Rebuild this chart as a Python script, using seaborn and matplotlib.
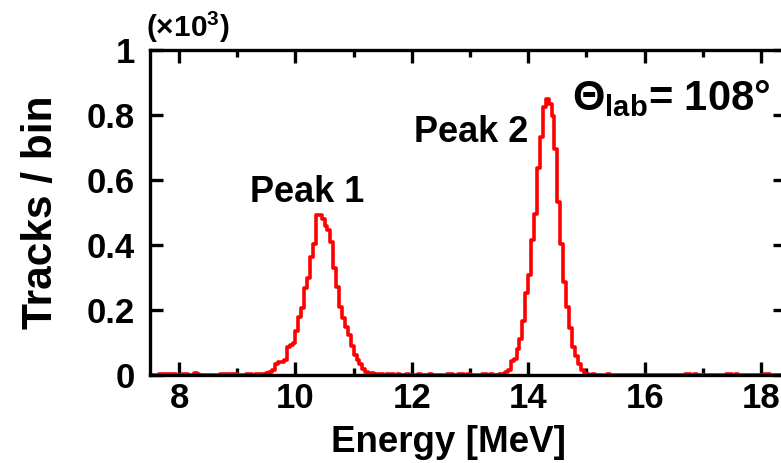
import numpy as np
import pandas as pd
import matplotlib
matplotlib.use('Agg')
import matplotlib.pyplot as plt
from matplotlib.ticker import MultipleLocator, FuncFormatter
import seaborn as sns

# Histogram data (tracks per 0.05 MeV bin)
bin_width = 0.05
peak1_start = 9.45
peak1_counts = [4, 5, 10, 15, 33, 39, 41, 46, 87, 92, 97, 135, 180, 205, 269, 300,
                364, 404, 491, 491, 481, 460, 445, 410, 328, 272, 210, 176, 148, 122,
                90, 62, 46, 33, 20, 10, 7, 5, 4]
peak2_start = 13.50
peak2_counts = [3, 4, 8, 15, 43, 50, 80, 110, 166, 253, 309, 415, 496, 637, 732, 825,
                848, 835, 797, 696, 532, 404, 286, 209, 145, 86, 58, 35, 14, 5, 4]
noise_energy = [7.65, 7.70, 7.75, 7.80, 7.85, 7.90, 8.05, 8.10, 8.25, 8.30, 8.70, 8.75,
                8.80, 8.90, 8.95, 9.15, 9.20, 9.30, 9.35, 9.40, 11.40, 11.45, 11.55,
                11.65, 11.75, 11.90, 12.10, 12.30, 12.60, 12.65, 12.80, 12.85, 12.95,
                13.20, 13.25, 13.35, 15.10, 15.35, 16.70, 16.75, 16.85, 17.40, 17.45,
                17.55, 18.05, 18.10]
noise_counts = [3, 3, 4, 3, 3, 3, 3, 3, 5, 4, 3, 3, 3, 3, 3, 3, 3, 4, 4, 4, 3, 3, 3,
                3, 3, 3, 3, 3, 3, 3, 3, 3, 3, 3, 3, 3, 3, 3, 3, 3, 3, 3, 3, 3, 3, 3]

# Build a table of bin lower edges and counts
rows = []
for start, counts in [(peak1_start, peak1_counts), (peak2_start, peak2_counts)]:
    for i, c in enumerate(counts):
        rows.append((start + i * bin_width, c))
rows += list(zip(noise_energy, noise_counts))
df = pd.DataFrame(rows, columns=['energy', 'tracks'])
df['center'] = df['energy'] + bin_width / 2
df['ktracks'] = df['tracks'] / 1000.0

sns.set_style('ticks')
plt.rcParams['font.family'] = ['Liberation Sans', 'DejaVu Sans']
plt.rcParams['font.weight'] = 'bold'
plt.rcParams['mathtext.fontset'] = 'custom'
plt.rcParams['mathtext.rm'] = 'Liberation Sans:bold'
plt.rcParams['mathtext.it'] = 'Liberation Sans:bold'
plt.rcParams['mathtext.bf'] = 'Liberation Sans:bold'
plt.rcParams['text.color'] = 'black'
plt.rcParams['axes.labelcolor'] = 'black'
plt.rcParams['xtick.color'] = 'black'
plt.rcParams['ytick.color'] = 'black'

fig = plt.figure(figsize=(7.81, 4.63), dpi=100)
ax = fig.add_axes([150 / 781, 88 / 463, 636 / 781, 325 / 463])

sns.histplot(data=df, x='center', weights='ktracks', binwidth=bin_width,
             binrange=(7.5, 18.5), element='step', fill=False, color='#ff0000',
             linewidth=2.6, ax=ax)

ax.set_xlim(7.5, 18.43)
ax.set_ylim(0, 1)
ax.xaxis.set_major_locator(MultipleLocator(2))
ax.xaxis.set_minor_locator(MultipleLocator(1))
ax.yaxis.set_major_locator(MultipleLocator(0.2))
ax.yaxis.set_major_formatter(FuncFormatter(lambda v, _: f'{v:g}'))

for s in ax.spines.values():
    s.set_linewidth(2.4)
    s.set_color('black')
ax.tick_params(which='both', direction='in', top=True, right=True, width=2.4,
               labelsize=25, color='black', labelcolor='black')
ax.tick_params(which='major', length=9.5)
ax.tick_params(which='minor', length=5)
ax.tick_params(axis='x', pad=5)
ax.tick_params(axis='y', pad=11)

ax.set_xlabel('Energy [MeV]', fontsize=26.5, fontweight='bold', color='black')
ax.set_ylabel('Tracks / bin', fontsize=30.5, fontweight='bold', color='black')
ax.xaxis.set_label_coords(0.469, -0.155)
ax.yaxis.set_label_coords(-0.14, 0.5)

ax.text(10.2, 0.532, 'Peak 1', fontsize=26, fontweight='bold', ha='center', va='baseline')
ax.text(13.02, 0.717, 'Peak 2', fontsize=26, fontweight='bold', ha='center', va='baseline')
ax.text(14.75, 0.815, r'$\Theta_{lab}$= 108°', fontsize=30, fontweight='bold',
        ha='left', va='baseline')
ax.text(-0.006, 1.04, r'(×10$^{3}$)', fontsize=21.5, fontweight='bold',
        transform=ax.transAxes, ha='left', va='baseline')

fig.savefig('out.png', dpi=100)
